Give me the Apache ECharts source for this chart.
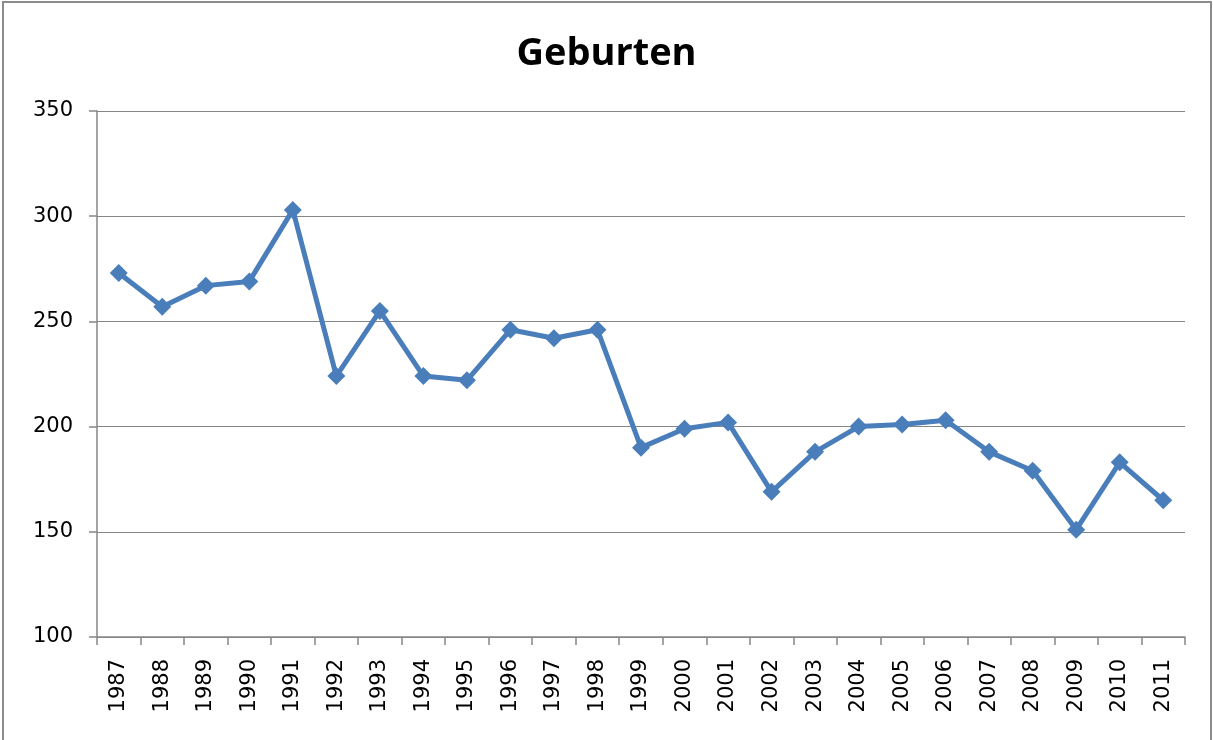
<!DOCTYPE html>
<html>
<head>
<meta charset="utf-8">
<script src="https://cdn.jsdelivr.net/npm/echarts@6/dist/echarts.min.js"></script>
<style>
html,body{margin:0;padding:0;background:#fff;}
#chart{width:1213px;height:740px;}
</style>
</head>
<body>
<div id="chart"></div>
<script>
const chartTitle = 'Geburten';
const years = ['1987','1988','1989','1990','1991','1992','1993','1994','1995','1996','1997','1998','1999','2000','2001','2002','2003','2004','2005','2006','2007','2008','2009','2010','2011'];
const births = [273,257,267,269,303,224,255,224,222,246,242,246,190,199,202,169,188,200,201,203,188,179,151,183,165];
const yMin = 100, yMax = 350, yStep = 50;

const chart = echarts.init(document.getElementById('chart'), null, {renderer:'canvas'});
const axisGrey = '#868686';
const lineBlue = '#4a7ebb';
chart.setOption({
  animation: false,
  backgroundColor: '#fff',
  title: {
    text: chartTitle,
    left: 'center',
    top: 30,
    textStyle: {fontFamily: 'Open Sans', fontWeight: 'bold', fontSize: 38, color: '#000'}
  },
  graphic: [{
    type: 'rect',
    shape: {x: 3, y: 2, width: 1208, height: 745},
    style: {fill: 'none', stroke: '#8c8c8c', lineWidth: 2},
    silent: true
  }],
  grid: {left: 97, right: 28, top: 111, bottom: 103},
  xAxis: {
    type: 'category',
    data: years,
    boundaryGap: true,
    axisLine: {lineStyle: {color: axisGrey, width: 1.5}},
    axisTick: {show: true, length: 8, lineStyle: {color: axisGrey, width: 1.5}},
    axisLabel: {rotate: 90, margin: 22, fontFamily: 'DejaVu Sans', fontSize: 21, color: '#000'}
  },
  yAxis: {
    type: 'value',
    min: yMin, max: yMax, interval: yStep,
    axisLine: {show: true, lineStyle: {color: axisGrey, width: 1.5}},
    axisTick: {show: true, length: 8, lineStyle: {color: axisGrey, width: 1.5}},
    splitLine: {show: true, lineStyle: {color: axisGrey, width: 1.2}},
    axisLabel: {margin: 24, fontFamily: 'DejaVu Sans', fontSize: 21, color: '#000'}
  },
  series: [{
    type: 'line',
    data: births,
    symbol: 'diamond',
    symbolSize: 18,
    lineStyle: {color: lineBlue, width: 5},
    itemStyle: {color: lineBlue},
    z: 3
  }]
});
</script>
</body>
</html>
